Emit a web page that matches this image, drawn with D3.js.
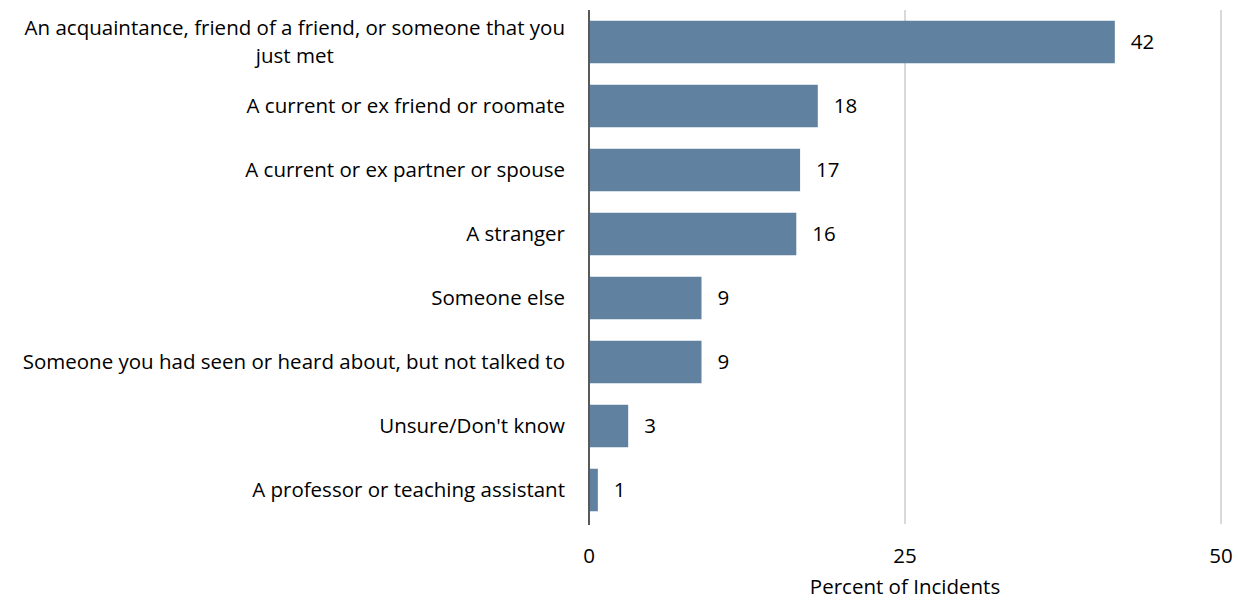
<!DOCTYPE html>
<html>
<head>
<meta charset="utf-8">
<script src="https://cdn.jsdelivr.net/npm/d3@7"></script>
<style>
  body { margin: 0; background: #fff; }
  svg text { font-family: "Open Sans", sans-serif; fill: #000; }
</style>
</head>
<body>
<div id="chart"></div>
<script>
var width = 1238;
var height = 600;

// categories, top to bottom
var categories = [
  ["An acquaintance, friend of a friend, or someone that you", "just met"],
  ["A current or ex friend or roomate"],
  ["A current or ex partner or spouse"],
  ["A stranger"],
  ["Someone else"],
  ["Someone you had seen or heard about, but not talked to"],
  ["Unsure/Don't know"],
  ["A professor or teaching assistant"]
];
// percent of incidents
var values = [41.6, 18.1, 16.7, 16.4, 8.9, 8.9, 3.1, 0.7];
var ticks = [0, 25, 50];
var axisTitle = "Percent of Incidents";

var barColor = "#60819f";
var fontSize = 20.5;

var svg = d3.select("#chart")
            .append("svg")
            .attr("width", width)
            .attr("height", height);

var x = d3.scaleLinear().domain([0, 50]).range([589, 1221]);
var y = d3.scaleBand()
          .domain(d3.range(values.length))
          .range([10, 522])
          .paddingInner(0.336)
          .paddingOuter(0.168);

// gridlines (not at 0, axis sits there)
svg.selectAll("line.grid")
   .data(ticks.filter(function(t) { return t > 0; }))
   .enter()
   .append("line")
   .attr("class", "grid")
   .attr("x1", function(d) { return x(d); })
   .attr("x2", function(d) { return x(d); })
   .attr("y1", 10)
   .attr("y2", 524)
   .attr("stroke", "#d9d9d9")
   .attr("stroke-width", 2);

// bars
svg.selectAll("rect.bar")
   .data(values)
   .enter()
   .append("rect")
   .attr("class", "bar")
   .attr("x", x(0))
   .attr("y", function(d, i) { return y(i); })
   .attr("width", function(d) { return x(d) - x(0); })
   .attr("height", y.bandwidth())
   .attr("fill", barColor);

// vertical axis line
svg.append("line")
   .attr("x1", x(0)).attr("x2", x(0))
   .attr("y1", 10).attr("y2", 525)
   .attr("stroke", "#595959")
   .attr("stroke-width", 2);

// value labels
svg.selectAll("text.val")
   .data(values)
   .enter()
   .append("text")
   .attr("class", "val")
   .attr("x", function(d) { return x(d) + 16; })
   .attr("y", function(d, i) { return y(i) + y.bandwidth() / 2; })
   .attr("dy", "0.35em")
   .style("font-size", fontSize + "px")
   .text(function(d) { return Math.round(d); });

// category labels, wrapped lines centred on the longest line, right edge fixed
var labelRight = 565;
var lineH = 28;
categories.forEach(function(lines, i) {
  var g = svg.append("text")
             .attr("class", "cat")
             .style("font-size", fontSize + "px")
             .attr("text-anchor", "middle");
  var cy = y(i) + y.bandwidth() / 2;
  var spans = lines.map(function(s, k) {
    return g.append("tspan")
            .attr("y", cy + (k - (lines.length - 1) / 2) * lineH)
            .attr("dy", "0.35em")
            .text(s);
  });
  var w = d3.max(spans, function(s) { return s.node().getComputedTextLength(); });
  spans.forEach(function(s) { s.attr("x", labelRight - w / 2); });
});

// x tick labels
svg.selectAll("text.tick")
   .data(ticks)
   .enter()
   .append("text")
   .attr("class", "tick")
   .attr("x", function(d) { return x(d); })
   .attr("y", 563)
   .attr("text-anchor", "middle")
   .style("font-size", fontSize + "px")
   .text(function(d) { return d; });

// axis title
svg.append("text")
   .attr("x", x(25))
   .attr("y", 594)
   .attr("text-anchor", "middle")
   .style("font-size", fontSize + "px")
   .text(axisTitle);
</script>
</body>
</html>
